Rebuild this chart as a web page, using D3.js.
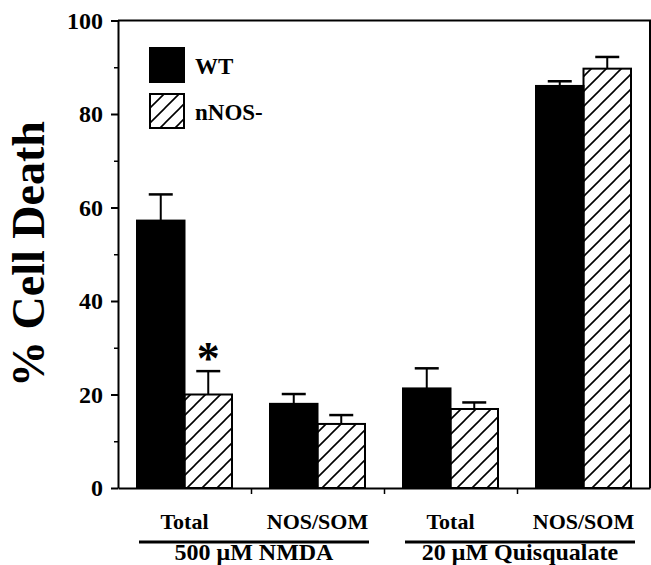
<!DOCTYPE html>
<html>
<head>
<meta charset="utf-8">
<script src="https://cdn.jsdelivr.net/npm/d3@7"></script>
<style>
  body { margin: 0; background: #fff; }
  text { font-family: "Liberation Serif", "Times New Roman", serif; font-weight: bold; fill: #000; }
</style>
</head>
<body>
<div class="plot"></div>
<script>
// data
var categoryLabels = ["Total", "NOS/SOM", "Total", "NOS/SOM"];
var groupLabels = ["500 \u03BCM NMDA", "20 \u03BCM Quisqualate"];
var groupOf = [0, 0, 1, 1];
var series = ["WT", "nNOS-"];
var wtMean = [57.2, 18.0, 21.3, 86.0];
var wtErr = [5.6, 2.1, 4.3, 1.0];
var nnosMean = [20.0, 13.7, 16.9, 89.7];
var nnosErr = [5.0, 1.9, 1.4, 2.5];
var yTicks = [0, 20, 40, 60, 80, 100];
var yMinor = [10, 30, 50, 70, 90];
var starCategory = 0;   // asterisk over nNOS- bar

var width = 651, height = 565;
var plot_left = 118, plot_right = 650, plot_top = 20.5, plot_bottom = 488;

var svg = d3.select(".plot").append("svg")
    .attr("width", width)
    .attr("height", height);

// hatch pattern
var defs = svg.append("defs");
defs.append("pattern")
    .attr("id", "hatch")
    .attr("patternUnits", "userSpaceOnUse")
    .attr("width", 15).attr("height", 15)
  .append("path")
    .attr("d", "M-2,2 l4,-4 M0,15 l15,-15 M13,17 l4,-4")
    .attr("stroke", "#000")
    .attr("stroke-width", 1.6);

var idx = d3.range(categoryLabels.length);

var x = d3.scaleBand()
    .domain(idx)
    .range([plot_left, plot_right]);

var x1 = d3.scaleBand()
    .domain(series)
    .range([0, x.bandwidth()])
    .paddingOuter(0.4);

var y = d3.scaleLinear()
    .domain([0, 100])
    .range([plot_bottom, plot_top]);

var rows = [];
idx.forEach(function(i) {
  rows.push({i: i, s: "WT", v: wtMean[i], e: wtErr[i]});
  rows.push({i: i, s: "nNOS-", v: nnosMean[i], e: nnosErr[i]});
});

// frame (top and right)
svg.append("path")
    .attr("d", "M" + plot_left + "," + y(100) + "H" + plot_right + "V" + plot_bottom)
    .attr("fill", "none")
    .attr("stroke", "#000")
    .attr("stroke-width", 2);

// error bars
var eb = svg.append("g").selectAll("g")
  .data(rows)
  .enter().append("g")
    .attr("stroke", "#000")
    .attr("stroke-width", 2);
eb.append("line")
    .attr("x1", function(d) { return x(d.i) + x1(d.s) + x1.bandwidth() / 2; })
    .attr("x2", function(d) { return x(d.i) + x1(d.s) + x1.bandwidth() / 2; })
    .attr("y1", function(d) { return y(d.v); })
    .attr("y2", function(d) { return y(d.v + d.e); });
eb.append("line")
    .attr("x1", function(d) { return x(d.i) + x1(d.s) + x1.bandwidth() / 2 - 12; })
    .attr("x2", function(d) { return x(d.i) + x1(d.s) + x1.bandwidth() / 2 + 12; })
    .attr("y1", function(d) { return y(d.v + d.e); })
    .attr("y2", function(d) { return y(d.v + d.e); })
    .attr("stroke-width", 2.5);

// bars
svg.append("g").selectAll("rect")
  .data(rows)
  .enter().append("rect")
    .attr("x", function(d) { return x(d.i) + x1(d.s); })
    .attr("y", function(d) { return y(d.v); })
    .attr("width", x1.bandwidth())
    .attr("height", function(d) { return y(0) - y(d.v); })
    .attr("fill", function(d) { return d.s == "WT" ? "#000" : "url(#hatch)"; })
    .attr("stroke", "#000")
    .attr("stroke-width", 2);

// asterisk
svg.append("text")
    .attr("x", x(starCategory) + x1("nNOS-") + x1.bandwidth() / 2)
    .attr("y", y(nnosMean[starCategory] + nnosErr[starCategory]) + 3)
    .attr("text-anchor", "middle")
    .style("font-size", "46px")
    .text("*");

// y axis
var yAxis = svg.append("g")
    .attr("transform", "translate(" + plot_left + ",0)")
    .call(d3.axisLeft(y).tickValues(yTicks).tickSize(7).tickSizeOuter(0).tickPadding(8));
yAxis.selectAll("text").style("font-size", "24px").style("font-family", null);
yAxis.select(".domain").attr("stroke-width", 2);
yAxis.selectAll(".tick line").attr("stroke-width", 2);

svg.append("g")
    .attr("transform", "translate(" + plot_left + ",0)")
    .call(d3.axisLeft(y).tickValues(yMinor).tickSize(4).tickFormat(""))
    .call(function(g) { g.select(".domain").remove(); })
    .selectAll(".tick line").attr("stroke-width", 1.5);

// x axis with category labels
var xAxis = svg.append("g")
    .attr("transform", "translate(0," + plot_bottom + ")")
    .call(d3.axisBottom(x).tickSize(0).tickSizeOuter(0).tickPadding(25)
      .tickFormat(function(i) { return categoryLabels[i]; }));
xAxis.selectAll("text").style("font-size", "22px").style("font-family", null);
xAxis.select(".domain").attr("stroke-width", 2);

// boundary ticks between categories
var xb = d3.scaleLinear().domain([0, idx.length]).range([plot_left, plot_right]);
svg.append("g")
    .attr("transform", "translate(0," + plot_bottom + ")")
    .call(d3.axisBottom(xb).tickValues(d3.range(1, idx.length)).tickSize(6).tickFormat(""))
    .call(function(g) { g.select(".domain").remove(); })
    .selectAll(".tick line").attr("stroke-width", 1.5);

// group underlines and labels
groupLabels.forEach(function(lab, gi) {
  var members = idx.filter(function(i) { return groupOf[i] == gi; });
  var x0 = x(members[0]) + x1("WT") + 2;
  var xe = x(members[members.length - 1]) + x1("nNOS-") + x1.bandwidth() + 4;
  svg.append("line")
    .attr("x1", x0).attr("x2", xe)
    .attr("y1", 542).attr("y2", 542)
    .attr("stroke", "#000")
    .attr("stroke-width", 3);
  svg.append("text")
    .attr("x", (x0 + xe) / 2)
    .attr("y", 560)
    .attr("text-anchor", "middle")
    .style("font-size", "24px")
    .text(lab);
});

// y label
svg.append("text")
    .attr("transform", "translate(44,254) rotate(-90)")
    .attr("text-anchor", "middle")
    .style("font-size", "46px")
    .text("% Cell Death");

// legend
var legend = svg.append("g")
    .attr("class", "legend")
    .attr("transform", "translate(150,48)");
legend.selectAll("rect")
  .data(series)
  .enter().append("rect")
    .attr("x", 0)
    .attr("y", function(d, i) { return i * 46; })
    .attr("width", 34)
    .attr("height", 34)
    .attr("fill", function(d) { return d == "WT" ? "#000" : "url(#hatch)"; })
    .attr("stroke", "#000")
    .attr("stroke-width", 2);
legend.selectAll("text")
  .data(series)
  .enter().append("text")
    .attr("x", 45)
    .attr("y", function(d, i) { return i * 46 + 26; })
    .style("font-size", "23px")
    .text(function(d) { return d; });
</script>
</body>
</html>
